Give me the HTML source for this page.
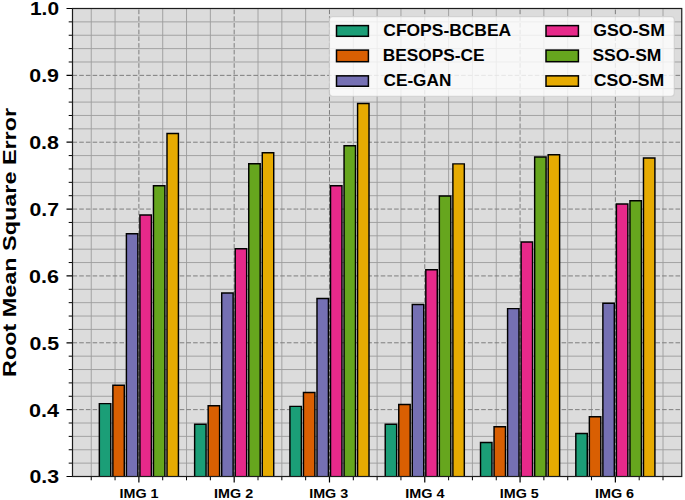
<!DOCTYPE html>
<html lang="en">
<head>
<meta charset="utf-8">
<title>Root Mean Square Error</title>
<style>
html,body{margin:0;padding:0;background:#fff;}
body{width:685px;height:500px;overflow:hidden;font-family:"Liberation Sans",sans-serif;}
svg{display:block;}
</style>
</head>
<body>
<svg width="685" height="500" viewBox="0 0 685 500" role="img" aria-label="Root Mean Square Error bar chart">
<defs><filter id="soft" x="-2%" y="-2%" width="104%" height="104%" color-interpolation-filters="sRGB"><feGaussianBlur stdDeviation="0.45"/></filter>
<filter id="soft2" x="-2%" y="-2%" width="104%" height="104%" color-interpolation-filters="sRGB"><feGaussianBlur stdDeviation="0.3"/></filter>
<clipPath id="axclip"><rect x="72.5" y="8.5" width="609.25" height="468"/></clipPath></defs>
<rect width="685" height="500" fill="#fff"/>
<g filter="url(#soft)">
<rect x="72.5" y="8.5" width="609.25" height="468" fill="#dcdcdc"/>
</g>
<g clip-path="url(#axclip)"><g filter="url(#soft2)">
<path d="M91.24 8.5V476.5M115.06 8.5V476.5M162.71 8.5V476.5M186.53 8.5V476.5M210.36 8.5V476.5M258 8.5V476.5M281.83 8.5V476.5M305.65 8.5V476.5M353.3 8.5V476.5M377.12 8.5V476.5M400.95 8.5V476.5M448.6 8.5V476.5M472.42 8.5V476.5M496.25 8.5V476.5M543.89 8.5V476.5M567.72 8.5V476.5M591.54 8.5V476.5M639.19 8.5V476.5M663.01 8.5V476.5M686.84 8.5V476.5M72.5 463.13H681.75M72.5 449.76H681.75M72.5 436.39H681.75M72.5 423.01H681.75M72.5 396.27H681.75M72.5 382.9H681.75M72.5 369.53H681.75M72.5 356.16H681.75M72.5 329.41H681.75M72.5 316.04H681.75M72.5 302.67H681.75M72.5 289.3H681.75M72.5 262.56H681.75M72.5 249.19H681.75M72.5 235.81H681.75M72.5 222.44H681.75M72.5 195.7H681.75M72.5 182.33H681.75M72.5 168.96H681.75M72.5 155.59H681.75M72.5 128.84H681.75M72.5 115.47H681.75M72.5 102.1H681.75M72.5 88.73H681.75M72.5 61.99H681.75M72.5 48.61H681.75M72.5 35.24H681.75M72.5 21.87H681.75" stroke="#9c9c9c" stroke-width="0.9" fill="none"/>
<path d="M138.88 476.5V8.5M234.18 476.5V8.5M329.48 476.5V8.5M424.77 476.5V8.5M520.07 476.5V8.5M615.37 476.5V8.5M72.5 409.64H681.75M72.5 342.79H681.75M72.5 275.93H681.75M72.5 209.07H681.75M72.5 142.21H681.75M72.5 75.36H681.75" stroke="#7e7e7e" stroke-width="1" stroke-dasharray="4.6 2.1" fill="none"/>
</g></g>
<g filter="url(#soft)">
<g clip-path="url(#axclip)">
<path d="M99.34 478.5V403.63H110.77V478.5ZM194.63 478.5V424.22H206.07V478.5ZM289.93 478.5V406.37H301.36V478.5ZM385.23 478.5V424.22H396.66V478.5ZM480.52 478.5V442.47H491.96V478.5ZM575.82 478.5V433.51H587.25V478.5Z" fill="#1b9e77" stroke="#000" stroke-width="1.45" stroke-linejoin="miter"/>
<path d="M112.87 478.5V385.31H124.3V478.5ZM208.16 478.5V405.7H219.6V478.5ZM303.46 478.5V392.53H314.9V478.5ZM398.76 478.5V404.49H410.19V478.5ZM494.05 478.5V426.69H505.49V478.5ZM589.35 478.5V416.73H600.79V478.5Z" fill="#d95f02" stroke="#000" stroke-width="1.45" stroke-linejoin="miter"/>
<path d="M126.4 478.5V233.81H137.84V478.5ZM221.7 478.5V292.98H233.13V478.5ZM316.99 478.5V298.53H328.43V478.5ZM412.29 478.5V304.41H423.73V478.5ZM507.59 478.5V308.62H519.02V478.5ZM602.88 478.5V303.21H614.32V478.5Z" fill="#7570b3" stroke="#000" stroke-width="1.45" stroke-linejoin="miter"/>
<path d="M139.93 478.5V215.09H151.37V478.5ZM235.23 478.5V248.78H246.66V478.5ZM330.52 478.5V185.81H341.96V478.5ZM425.82 478.5V269.71H437.26V478.5ZM521.12 478.5V242.03H532.55V478.5ZM616.41 478.5V203.92H627.85V478.5Z" fill="#e7298a" stroke="#000" stroke-width="1.45" stroke-linejoin="miter"/>
<path d="M153.46 478.5V185.67H164.9V478.5ZM248.76 478.5V163.68H260.2V478.5ZM344.06 478.5V145.82H355.49V478.5ZM439.35 478.5V195.9H450.79V478.5ZM534.65 478.5V156.92H546.09V478.5ZM629.95 478.5V200.78H641.38V478.5Z" fill="#66a61e" stroke="#000" stroke-width="1.45" stroke-linejoin="miter"/>
<path d="M167 478.5V133.52H178.43V478.5ZM262.29 478.5V152.78H273.73V478.5ZM357.59 478.5V103.57H369.02V478.5ZM452.89 478.5V163.88H464.32V478.5ZM548.18 478.5V154.78H559.62V478.5ZM643.48 478.5V157.99H654.91V478.5Z" fill="#e6ab02" stroke="#000" stroke-width="1.45" stroke-linejoin="miter"/>
</g>
<path d="M138.88 476.5v6M234.18 476.5v6M329.48 476.5v6M424.77 476.5v6M520.07 476.5v6M615.37 476.5v6M72.5 476.5h-6M72.5 409.64h-6M72.5 342.79h-6M72.5 275.93h-6M72.5 209.07h-6M72.5 142.21h-6M72.5 75.36h-6M72.5 8.5h-6" stroke="#000" stroke-width="1.2" fill="none"/>
<path d="M91.24 476.5v3.8M115.06 476.5v3.8M162.71 476.5v3.8M186.53 476.5v3.8M210.36 476.5v3.8M258 476.5v3.8M281.83 476.5v3.8M305.65 476.5v3.8M353.3 476.5v3.8M377.12 476.5v3.8M400.95 476.5v3.8M448.6 476.5v3.8M472.42 476.5v3.8M496.25 476.5v3.8M543.89 476.5v3.8M567.72 476.5v3.8M591.54 476.5v3.8M639.19 476.5v3.8M663.01 476.5v3.8M686.84 476.5v3.8M72.5 463.13h-3.8M72.5 449.76h-3.8M72.5 436.39h-3.8M72.5 423.01h-3.8M72.5 396.27h-3.8M72.5 382.9h-3.8M72.5 369.53h-3.8M72.5 356.16h-3.8M72.5 329.41h-3.8M72.5 316.04h-3.8M72.5 302.67h-3.8M72.5 289.3h-3.8M72.5 262.56h-3.8M72.5 249.19h-3.8M72.5 235.81h-3.8M72.5 222.44h-3.8M72.5 195.7h-3.8M72.5 182.33h-3.8M72.5 168.96h-3.8M72.5 155.59h-3.8M72.5 128.84h-3.8M72.5 115.47h-3.8M72.5 102.1h-3.8M72.5 88.73h-3.8M72.5 61.99h-3.8M72.5 48.61h-3.8M72.5 35.24h-3.8M72.5 21.87h-3.8" stroke="#000" stroke-width="1" fill="none"/>
<rect x="72.5" y="8.5" width="609.25" height="468" fill="none" stroke="#1c1c1c" stroke-width="1.2"/>
<rect x="329.5" y="16.6" width="344.75" height="79.6" rx="3" ry="3" fill="#fff" fill-opacity="0.8" stroke="#ccc" stroke-opacity="0.8" stroke-width="1.1"/>
<rect x="336.5" y="25.6" width="31.9" height="10.7" fill="#1b9e77" stroke="#000" stroke-width="1.5"/>
<rect x="336.5" y="50.1" width="31.9" height="11.6" fill="#d95f02" stroke="#000" stroke-width="1.5"/>
<rect x="336.5" y="75.85" width="31.9" height="10.4" fill="#7570b3" stroke="#000" stroke-width="1.5"/>
<rect x="546" y="25.6" width="32.4" height="10.7" fill="#e7298a" stroke="#000" stroke-width="1.5"/>
<rect x="546" y="50.1" width="32.4" height="11.6" fill="#66a61e" stroke="#000" stroke-width="1.5"/>
<rect x="546" y="75.85" width="32.4" height="10.4" fill="#e6ab02" stroke="#000" stroke-width="1.5"/>
</g>
<g font-family="'Liberation Sans', sans-serif" font-weight="bold" fill="#000">
<text x="59" y="483.4" font-size="18.5" text-anchor="end" textLength="29.6" lengthAdjust="spacingAndGlyphs">0.3</text>
<text x="59" y="416.54" font-size="18.5" text-anchor="end" textLength="30" lengthAdjust="spacingAndGlyphs">0.4</text>
<text x="59" y="349.69" font-size="18.5" text-anchor="end" textLength="29.6" lengthAdjust="spacingAndGlyphs">0.5</text>
<text x="59" y="282.83" font-size="18.5" text-anchor="end" textLength="29.9" lengthAdjust="spacingAndGlyphs">0.6</text>
<text x="59" y="215.97" font-size="18.5" text-anchor="end" textLength="29.5" lengthAdjust="spacingAndGlyphs">0.7</text>
<text x="59" y="149.11" font-size="18.5" text-anchor="end" textLength="29.8" lengthAdjust="spacingAndGlyphs">0.8</text>
<text x="59" y="82.26" font-size="18.5" text-anchor="end" textLength="29.7" lengthAdjust="spacingAndGlyphs">0.9</text>
<text x="59" y="15.4" font-size="18.5" text-anchor="end" textLength="29" lengthAdjust="spacingAndGlyphs">1.0</text>
<text x="139" y="497.85" font-size="12" text-anchor="middle" textLength="39" lengthAdjust="spacingAndGlyphs">IMG 1</text>
<text x="233.6" y="497.85" font-size="12" text-anchor="middle" textLength="39" lengthAdjust="spacingAndGlyphs">IMG 2</text>
<text x="328.7" y="497.85" font-size="12" text-anchor="middle" textLength="39" lengthAdjust="spacingAndGlyphs">IMG 3</text>
<text x="424.9" y="497.85" font-size="12" text-anchor="middle" textLength="39.3" lengthAdjust="spacingAndGlyphs">IMG 4</text>
<text x="519.3" y="497.85" font-size="12" text-anchor="middle" textLength="39" lengthAdjust="spacingAndGlyphs">IMG 5</text>
<text x="614.5" y="497.85" font-size="12" text-anchor="middle" textLength="39.2" lengthAdjust="spacingAndGlyphs">IMG 6</text>
<text transform="translate(15.6 242.4) rotate(-90)" font-size="19" text-anchor="middle" textLength="269" lengthAdjust="spacingAndGlyphs">Root Mean Square Error</text>
<text x="383.3" y="35.6" font-size="17" textLength="127.9" lengthAdjust="spacingAndGlyphs">CFOPS-BCBEA</text>
<text x="382.7" y="60.5" font-size="17" textLength="101.9" lengthAdjust="spacingAndGlyphs">BESOPS-CE</text>
<text x="383.5" y="85.7" font-size="17" textLength="67.8" lengthAdjust="spacingAndGlyphs">CE-GAN</text>
<text x="593.2" y="35.6" font-size="17" textLength="71.7" lengthAdjust="spacingAndGlyphs">GSO-SM</text>
<text x="592.4" y="60.5" font-size="17" textLength="69" lengthAdjust="spacingAndGlyphs">SSO-SM</text>
<text x="593.7" y="85.7" font-size="17" textLength="70.6" lengthAdjust="spacingAndGlyphs">CSO-SM</text>
</g>
</svg>
</body>
</html>
